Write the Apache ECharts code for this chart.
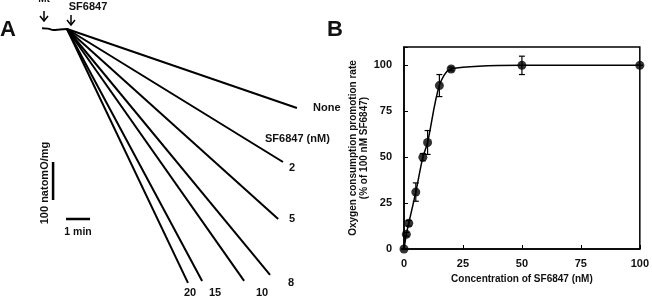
<!DOCTYPE html>
<html>
<head>
<meta charset="utf-8">
<title>SF6847 oxygen consumption</title>
<script src="https://cdn.jsdelivr.net/npm/echarts@6/dist/echarts.min.js"></script>
<style>
    html, body { margin: 0; padding: 0; background: #fff; }
    #main { width: 652px; height: 300px; }
</style>
</head>
<body>
<div id="main"></div>
<script type="text/javascript">

    // panel A: traces, time after SF6847 (min) vs oxygen consumed (natomO/mg)
    var traceNames = ['None', '2', '5', '8', '10', '15', '20'];
    var traceEndTime = [9.58, 9.0, 8.8, 8.46, 7.38, 5.63, 5.04];
    var traceEndO = [208, 350, 500, 647, 663, 663, 668];
    var preTrace = [[-1.04, -2], [-0.8, -1], [-0.55, 2.5], [-0.3, 1], [0, 0]];
    var scaleBarO = [[-0.58, 350], [-0.58, 450]];
    var scaleBarT = [[-0.04, 500], [0.96, 500]];

    // panel B: promotion rate vs concentration
    var conc = [0, 1, 2, 5, 8, 10, 15, 20, 50, 100];
    var rate = [0, 8, 14, 31, 50, 58, 89, 98, 100, 100];
    var sem = [0, 1, 1.5, 5, 2, 6.5, 6, 1, 5, 0];

    var font = 'Liberation Sans, Arial, sans-serif';
    var myChart = echarts.init(document.getElementById('main'));

    var series = [];
    traceNames.forEach(function (n, i) {
        series.push({
            name: n, type: 'line', xAxisIndex: 0, yAxisIndex: 0,
            data: [[0, 0], [traceEndTime[i], traceEndO[i]]],
            symbol: 'none', silent: true,
            lineStyle: { color: '#000', width: 2 }
        });
    });
    series.push({
        type: 'line', xAxisIndex: 0, yAxisIndex: 0, data: preTrace, smooth: true,
        symbol: 'none', silent: true, lineStyle: { color: '#000', width: 2 }
    });
    [scaleBarO, scaleBarT].forEach(function (b) {
        series.push({
            type: 'line', xAxisIndex: 0, yAxisIndex: 0, data: b,
            symbol: 'none', silent: true, lineStyle: { color: '#000', width: 2.5 }
        });
    });

    var pts = conc.map(function (c, i) { return [c, rate[i]]; });
    series.push({
        type: 'line', xAxisIndex: 1, yAxisIndex: 1, data: pts, smooth: 0.3,
        symbol: 'none', silent: true, lineStyle: { color: '#000', width: 1.5 }, z: 3
    });
    series.push({
        type: 'custom', xAxisIndex: 1, yAxisIndex: 1, silent: true, z: 4,
        data: conc.map(function (c, i) { return [c, rate[i] - sem[i], rate[i] + sem[i]]; }),
        renderItem: function (params, api) {
            var lo = api.coord([api.value(0), api.value(1)]);
            var hi = api.coord([api.value(0), api.value(2)]);
            var w = 3;
            var st = { stroke: '#000', lineWidth: 1.2 };
            return {
                type: 'group',
                children: [
                    { type: 'line', shape: { x1: lo[0], y1: lo[1], x2: hi[0], y2: hi[1] }, style: st },
                    { type: 'line', shape: { x1: lo[0] - w, y1: lo[1], x2: lo[0] + w, y2: lo[1] }, style: st },
                    { type: 'line', shape: { x1: hi[0] - w, y1: hi[1], x2: hi[0] + w, y2: hi[1] }, style: st }
                ]
            };
        }
    });
    series.push({
        type: 'scatter', xAxisIndex: 1, yAxisIndex: 1, data: pts, silent: true, z: 5,
        symbol: 'circle', symbolSize: 9, itemStyle: { color: '#000' }
    });

    var lab = { fontFamily: font, fontWeight: 'bold', fontSize: 11, fill: '#111' };
    function txt(s, x, y, align, size) {
        return {
            type: 'text', x: x, y: y, silent: true,
            style: echarts.util.extend(echarts.util.extend({}, lab), {
                text: s, align: align || 'center', verticalAlign: 'middle', fontSize: size || 11
            })
        };
    }
    function arrow(x, y1, y2) {
        return {
            type: 'group', silent: true,
            children: [
                { type: 'line', shape: { x1: x, y1: y1, x2: x, y2: y2 }, style: { stroke: '#000', lineWidth: 1.5 } },
                { type: 'polyline', shape: { points: [[x - 4, y2 - 5], [x, y2], [x + 4, y2 - 5]] },
                  style: { stroke: '#000', lineWidth: 1.5, fill: null } }
            ]
        };
    }

    var graphics = [
        txt('A', 8, 30, 'center', 22),
        txt('B', 335, 30, 'center', 22),
        txt('Mt', 44, -1, 'center', 10),
        txt('SF6847', 88, 7, 'center', 11),
        arrow(44, 11, 21),
        arrow(71, 15, 25),
        txt('None', 313, 108, 'left'),
        txt('SF6847 (nM)', 265, 139, 'left'),
        txt('2', 292, 168),
        txt('5', 292, 219),
        txt('8', 291, 283),
        txt('10', 262, 293),
        txt('15', 215, 293),
        txt('20', 190, 293),
        txt('1 min', 78, 232, 'center', 10.5),
        {
            type: 'text', x: 45, y: 183, rotation: Math.PI / 2, silent: true,
            style: echarts.util.extend(echarts.util.extend({}, lab), {
                text: '100 natomO/mg', align: 'center', verticalAlign: 'middle', fontSize: 11
            })
        }
    ];

    var option = {
        animation: false,
        backgroundColor: '#fff',
        grid: [
            { left: 19, top: 10, width: 312, height: 285 },
            { left: 404, top: 47, right: 9, bottom: 51, show: true, borderColor: '#000', borderWidth: 1.5 }
        ],
        xAxis: [
            { gridIndex: 0, type: 'value', min: -2, max: 11, show: false },
            {
                gridIndex: 1, type: 'value', min: 0, max: 100, interval: 25,
                name: 'Concentration of SF6847 (nM)', nameLocation: 'middle', nameGap: 23,
                nameTextStyle: { fontFamily: font, fontWeight: 'bold', fontSize: 10, color: '#111' },
                axisLine: { lineStyle: { color: '#000', width: 1.5 } },
                axisTick: { inside: true, length: 4, lineStyle: { color: '#000' } },
                axisLabel: { fontFamily: font, fontWeight: 'bold', fontSize: 11, color: '#111', margin: 9 },
                splitLine: { show: false }
            }
        ],
        yAxis: [
            { gridIndex: 0, type: 'value', min: -50, max: 700, inverse: true, show: false },
            {
                gridIndex: 1, type: 'value', min: 0, max: 110, interval: 25,
                name: 'Oxygen consumption promotion rate\n(% of 100 nM SF6847)',
                nameLocation: 'middle', nameGap: 34,
                nameTextStyle: { fontFamily: font, fontWeight: 'bold', fontSize: 10, color: '#111', lineHeight: 11 },
                axisLine: { lineStyle: { color: '#000', width: 1.5 } },
                axisTick: { inside: true, length: 4, lineStyle: { color: '#000' } },
                axisLabel: {
                    fontFamily: font, fontWeight: 'bold', fontSize: 11, color: '#111', margin: 12,
                    formatter: function (v) { return v > 100 ? '' : v; }
                },
                splitLine: { show: false }
            }
        ],
        graphic: graphics,
        series: series
    };

    myChart.setOption(option);

</script>
</body>
</html>
